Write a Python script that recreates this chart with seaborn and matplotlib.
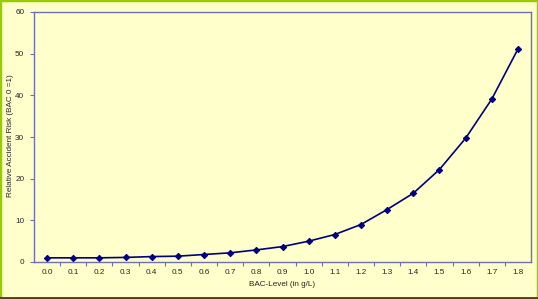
import matplotlib
matplotlib.use("Agg")
import matplotlib.pyplot as plt
import seaborn as sns
import pandas as pd
from matplotlib.patches import Rectangle

bac_levels = ["0.0", "0.1", "0.2", "0.3", "0.4", "0.5", "0.6", "0.7", "0.8", "0.9",
              "1.0", "1.1", "1.2", "1.3", "1.4", "1.5", "1.6", "1.7", "1.8"]
risk = [1.0, 1.0, 1.0, 1.1, 1.3, 1.4, 1.8, 2.2, 2.9, 3.7,
        5.0, 6.6, 9.0, 12.6, 16.5, 22.2, 29.7, 39.1, 51.1]
y_ticks = [0, 10, 20, 30, 40, 50, 60]

sns.set_theme(style="white")
plt.rcParams['font.family'] = ['Liberation Sans', 'DejaVu Sans']

bg = "#FFFFCC"
spine_c = "#7070B0"
line_c = "#000080"
fs = 5.9

df = pd.DataFrame({"bac": bac_levels, "risk": risk, "pos": range(len(bac_levels))})

fig = plt.figure(figsize=(5.38, 2.99), dpi=100, facecolor=bg)
ax = fig.add_axes([34/538, 37/299, 497/538, 250/299])
ax.set_facecolor(bg)

sns.lineplot(data=df, x="pos", y="risk", ax=ax, color=line_c, linewidth=1.2,
             marker="D", markersize=3.2, markeredgecolor=line_c, markerfacecolor=line_c)

ax.set_xlim(-0.5, len(bac_levels) - 0.5)
ax.set_ylim(0, 60)
ax.set_yticks(y_ticks)
ax.set_yticklabels([str(v) for v in y_ticks], fontsize=fs)

ax.set_xticks([i - 0.5 for i in range(1, len(bac_levels))])
ax.set_xticklabels([])
ax.set_xticks(list(range(len(bac_levels))), minor=True)
ax.set_xticklabels(bac_levels, minor=True, fontsize=fs)
ax.tick_params(axis="x", which="major", direction="out", length=3, width=0.8,
               color=spine_c, bottom=True)
ax.tick_params(axis="x", which="minor", length=0, pad=5, bottom=True)
ax.tick_params(axis="y", direction="out", length=3, width=0.8, color=spine_c,
               left=True, pad=4)

for s in ax.spines.values():
    s.set_color(spine_c)
    s.set_linewidth(1.0)

ax.set_xlabel("BAC-Level (in g/L)", fontsize=fs, labelpad=4)
ax.set_ylabel("")
fig.text(11/538, 1 - 136/299, "Relative Accident Risk (BAC 0 =1)", rotation=90,
         ha="center", va="center", fontsize=fs)
ax.grid(False)

fig.patches.append(Rectangle((0, 0), 1, 1, transform=fig.transFigure, fill=False,
                             edgecolor="#99CC00", linewidth=2.5, zorder=10))
fig.lines.append(plt.Line2D([0, 1], [1/299, 1/299], transform=fig.transFigure,
                            color="#333300", linewidth=1.2, zorder=11))

fig.savefig("out.png", dpi=100, facecolor=bg)
